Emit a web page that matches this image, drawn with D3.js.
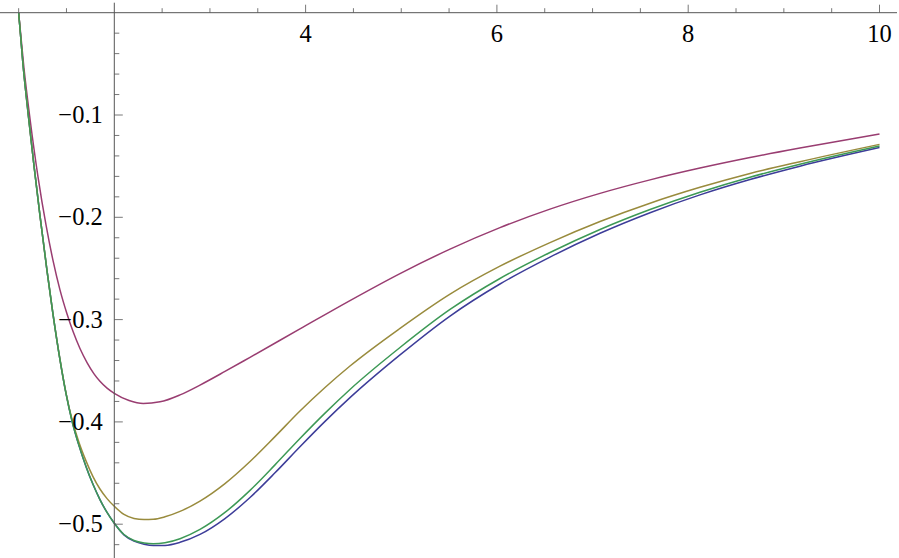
<!DOCTYPE html>
<html>
<head>
<meta charset="utf-8">
<script src="https://cdn.jsdelivr.net/npm/d3@7"></script>
<style>
  html, body { margin: 0; padding: 0; background: #fff; }
  svg { display: block; }
  text { font-family: "Liberation Serif", "Times New Roman", Times, serif; fill: #000; }
</style>
</head>
<body>
<svg id="chart" width="899" height="558"></svg>
<script>
// ---- data ----
// shared sample positions for the blue, gold and green curves
const xSamples = [1.0, 1.045, 1.098, 1.160, 1.223, 1.296, 1.359, 1.432, 1.495, 1.558, 1.631, 1.704, 1.777, 1.850, 1.924, 2.0,
                  2.101, 2.206, 2.311, 2.408, 2.530, 2.687, 2.896, 3.157, 3.419, 3.680, 3.941, 4.203, 4.464, 4.987, 5.510,
                  6.032, 6.555, 7.078, 7.601, 8.123, 8.646, 9.168, 10.0];

const blueY  = [0, -0.0501, -0.0976, -0.1492, -0.1984, -0.2518, -0.2946, -0.3391, -0.3722, -0.3991, -0.4232, -0.4435, -0.4610, -0.4759, -0.4885, -0.4991,
                -0.5104, -0.5166, -0.5196, -0.5209, -0.5207, -0.5177, -0.5100, -0.4945, -0.4739, -0.4498, -0.4243, -0.3995, -0.3763, -0.3345, -0.2965,
                -0.2652, -0.2389, -0.2156, -0.1955, -0.1781, -0.1631, -0.1500, -0.1318];

const goldY  = [0, -0.0501, -0.0976, -0.1492, -0.1984, -0.2518, -0.2946, -0.3389, -0.3718, -0.3977, -0.4201, -0.4381, -0.4535, -0.4656, -0.4750, -0.4825,
                -0.4905, -0.4944, -0.4954, -0.4952, -0.4928, -0.4875, -0.4774, -0.4603, -0.4387, -0.4144, -0.3894, -0.3664, -0.3454, -0.3086, -0.2751,
                -0.2478, -0.2247, -0.2041, -0.1862, -0.1707, -0.1571, -0.1456, -0.1287];

const greenY = [0, -0.0501, -0.0976, -0.1492, -0.1984, -0.2518, -0.2946, -0.3391, -0.3722, -0.3991, -0.4232, -0.4435, -0.4610, -0.4759, -0.4885, -0.4991,
                -0.5101, -0.5159, -0.5184, -0.5192, -0.5182, -0.5142, -0.5051, -0.4885, -0.4669, -0.4420, -0.4162, -0.3914, -0.3683, -0.3273, -0.2901,
                -0.2598, -0.2344, -0.2119, -0.1924, -0.1755, -0.1608, -0.1481, -0.1303];

// purple curve sampled on its own positions
const purpleX = [1.0, 1.056, 1.119, 1.202, 1.286, 1.359, 1.432, 1.506, 1.568, 1.641, 1.715, 1.788, 1.850, 1.924, 2.0, 2.154, 2.303,
                 2.478, 2.687, 2.896, 3.157, 3.419, 3.941, 4.464, 4.987, 5.510, 6.032, 6.555, 7.078, 7.601, 8.123, 8.646, 9.168, 10.0];
const purpleY = [0, -0.0546, -0.1039, -0.1602, -0.2075, -0.2421, -0.2709, -0.2945, -0.3115, -0.3283, -0.3420, -0.3530, -0.3603, -0.3670, -0.3721, -0.3791, -0.3820,
                 -0.3804, -0.3736, -0.3640, -0.3507, -0.3369, -0.3091, -0.2814, -0.2550, -0.2311, -0.2101, -0.1920, -0.1766, -0.1634, -0.1519, -0.1416, -0.1323, -0.1186];

const seriesNames  = ["blue", "purple", "gold", "green"];
const seriesColors = ["#3d3d99", "#993d71", "#998b3d", "#3d9956"];

const xMajorTicks = [4, 6, 8, 10];
const xTickLabels = ["4", "6", "8", "10"];
const xMinorTicks = [1, 1.5, 2.5, 3, 3.5, 4.5, 5, 5.5, 6.5, 7, 7.5, 8.5, 9, 9.5];
const yMajorTicks = [-0.1, -0.2, -0.3, -0.4, -0.5];
const yTickLabels = ["\u22120.1", "\u22120.2", "\u22120.3", "\u22120.4", "\u22120.5"];
const yMinorTicks = [-0.02, -0.04, -0.06, -0.08, -0.12, -0.14, -0.16, -0.18, -0.22, -0.24, -0.26, -0.28,
                     -0.32, -0.34, -0.36, -0.38, -0.42, -0.44, -0.46, -0.48, -0.52];

// ---- layout ----
const svg = d3.select("#chart");
const x = d3.scaleLinear().domain([2, 10]).range([114.3, 879.5]);
const y = d3.scaleLinear().domain([0, -0.5]).range([12.7, 524.2]);

const axisColor = "#555";
const fontFamily = "'Liberation Serif', 'Times New Roman', Times, serif";

// curves (drawn in Mathematica's order: blue, purple, gold, green)
const allSeries = [
  d3.zip(xSamples, blueY),
  d3.zip(purpleX, purpleY),
  d3.zip(xSamples, goldY),
  d3.zip(xSamples, greenY)
];
const line = d3.line()
  .x(d => x(d[0]))
  .y(d => y(d[1]))
  .curve(d3.curveMonotoneX);

svg.append("defs").append("clipPath").attr("id", "plotclip")
  .append("rect").attr("x", 0).attr("y", y(0.0)).attr("width", 899).attr("height", 558);

const g = svg.append("g").attr("clip-path", "url(#plotclip)");
allSeries.forEach((s, k) => {
  g.append("path")
    .datum(s)
    .attr("class", "series " + seriesNames[k])
    .attr("fill", "none")
    .attr("stroke", seriesColors[k])
    .attr("stroke-width", 1.5)
    .attr("stroke-linejoin", "round")
    .attr("d", line);
});

// x axis (at y = 0, ticks pointing up)
const xAxisG = svg.append("g").attr("class", "x-axis");
xAxisG.append("line")
  .attr("x1", 0).attr("x2", 897)
  .attr("y1", y(0)).attr("y2", y(0))
  .attr("stroke", axisColor).attr("stroke-width", 1);
xAxisG.selectAll("line.major").data(xMajorTicks).enter().append("line")
  .attr("class", "major")
  .attr("x1", d => x(d)).attr("x2", d => x(d))
  .attr("y1", y(0)).attr("y2", y(0) - 8)
  .attr("stroke", axisColor).attr("stroke-width", 0.8);
xAxisG.selectAll("line.minor").data(xMinorTicks).enter().append("line")
  .attr("class", "minor")
  .attr("x1", d => x(d)).attr("x2", d => x(d))
  .attr("y1", y(0)).attr("y2", y(0) - 4.5)
  .attr("stroke", axisColor).attr("stroke-width", 0.8);
xAxisG.selectAll("text").data(xMajorTicks).enter().append("text")
  .attr("x", d => x(d))
  .attr("y", y(0) + 29.5)
  .attr("text-anchor", "middle")
  .attr("font-family", fontFamily)
  .attr("font-size", 24.5)
  .text((d, i) => xTickLabels[i]);

// y axis (at x = 2, ticks pointing right)
const yAxisG = svg.append("g").attr("class", "y-axis");
yAxisG.append("line")
  .attr("x1", x(2)).attr("x2", x(2))
  .attr("y1", 2.7).attr("y2", 558)
  .attr("stroke", axisColor).attr("stroke-width", 1);
yAxisG.selectAll("line.major").data(yMajorTicks).enter().append("line")
  .attr("class", "major")
  .attr("x1", x(2)).attr("x2", x(2) + 8.5)
  .attr("y1", d => y(d)).attr("y2", d => y(d))
  .attr("stroke", axisColor).attr("stroke-width", 0.8);
yAxisG.selectAll("line.minor").data(yMinorTicks).enter().append("line")
  .attr("class", "minor")
  .attr("x1", x(2)).attr("x2", x(2) + 5)
  .attr("y1", d => y(d)).attr("y2", d => y(d))
  .attr("stroke", axisColor).attr("stroke-width", 0.8);
yAxisG.selectAll("text").data(yMajorTicks).enter().append("text")
  .attr("x", x(2) - 11.5)
  .attr("y", d => y(d) + 8)
  .attr("text-anchor", "end")
  .attr("font-family", fontFamily)
  .attr("font-size", 24.5)
  .text((d, i) => yTickLabels[i]);
</script>
</body>
</html>
